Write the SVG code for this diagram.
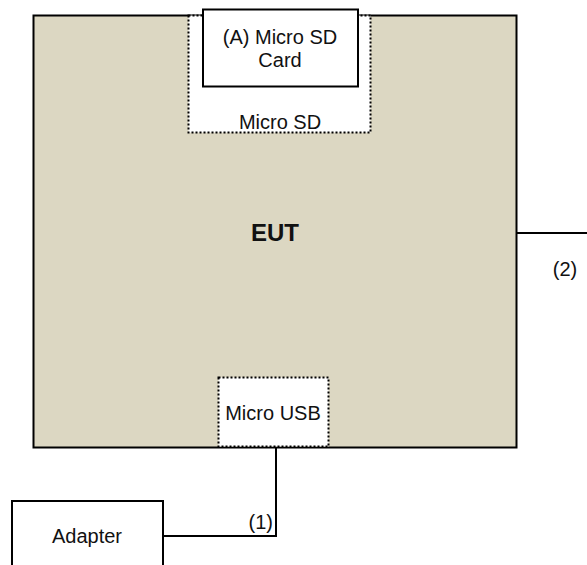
<svg xmlns="http://www.w3.org/2000/svg" width="587" height="565" viewBox="0 0 587 565">
<style>
.t{font-family:"Liberation Sans",Arial,sans-serif;font-size:20px;fill:#111}
.b{fill:#fff;stroke:#000;stroke-width:2}
.d{fill:#fff;stroke:#000;stroke-width:2;stroke-dasharray:2 2}
.w{fill:none;stroke:#000;stroke-width:2}
</style>
<rect width="587" height="565" fill="#fff"/>
<g id="eut">
<rect x="33.5" y="15.5" width="483" height="432" fill="#DCD7C2" stroke="#000" stroke-width="2"/>
<text class="t" x="275" y="241" text-anchor="middle" style="font-size:24px;font-weight:bold">EUT</text>
</g>
<g id="microsd">
<rect x="188.5" y="15.5" width="182" height="117" class="d"/>
<text class="t" x="280" y="129" text-anchor="middle">Micro SD</text>
</g>
<g id="card">
<rect x="203" y="9.5" width="155" height="77" class="b"/>
<text class="t" x="280" y="44" text-anchor="middle">(A) Micro SD</text>
<text class="t" x="280" y="67" text-anchor="middle">Card</text>
</g>
<g id="microusb">
<rect x="218.5" y="377.5" width="110" height="69" class="d"/>
<text class="t" x="273" y="420" text-anchor="middle">Micro USB</text>
</g>
<g id="adapter">
<rect x="12" y="501" width="151" height="80" class="b"/>
<text class="t" x="87" y="543" text-anchor="middle">Adapter</text>
</g>
<g id="connectors">
<polyline class="w" points="276,448 276,536 163,536"/>
<text class="t" x="273" y="529" text-anchor="end">(1)</text>
<line class="w" x1="517" y1="233" x2="587" y2="233"/>
<text class="t" x="565" y="276" text-anchor="middle">(2)</text>
</g>
</svg>
